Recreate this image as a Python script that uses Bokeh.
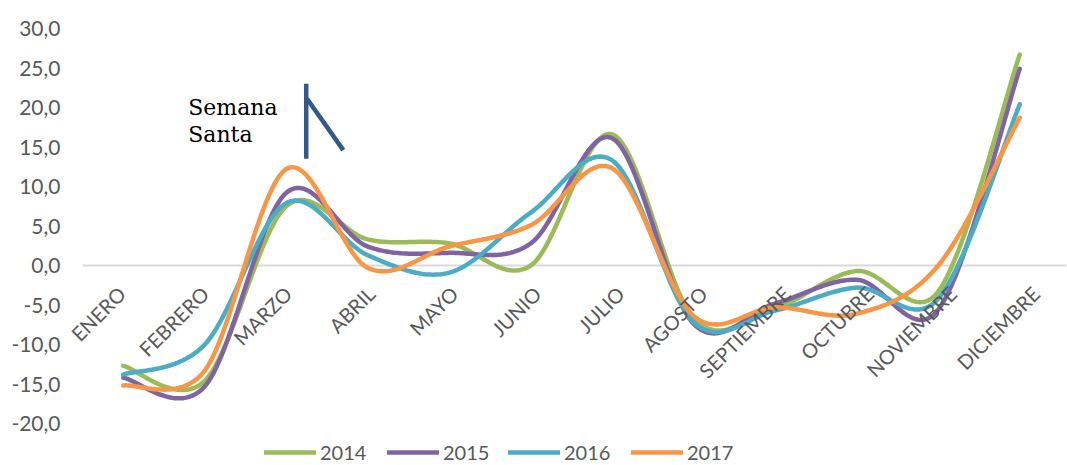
import math
from bokeh.plotting import figure
from bokeh.models import Range1d, FixedTicker, Legend, LegendItem, ColumnDataSource
from bokeh.core.properties import value
from bokeh.embed import file_html
from bokeh.resources import INLINE

months = ["ENERO", "FEBRERO", "MARZO", "ABRIL", "MAYO", "JUNIO", "JULIO",
          "AGOSTO", "SEPTIEMBRE", "OCTUBRE", "NOVIEMBRE", "DICIEMBRE"]
series_names = ["2014", "2015", "2016", "2017"]
v2014 = [-12.7, -14.6, 7.5, 3.3, 2.8, 0.0, 16.6, -6.7, -5.4, -0.7, -3.3, 26.7]
v2015 = [-14.2, -15.3, 9.2, 2.4, 1.6, 2.8, 16.1, -7.4, -4.8, -1.8, -5.6, 24.9]
v2016 = [-13.8, -10.0, 7.9, 1.3, -0.9, 6.7, 13.3, -7.2, -5.7, -2.8, -4.2, 20.4]
v2017 = [-15.2, -13.3, 12.2, -0.3, 2.4, 5.1, 12.3, -6.4, -5.3, -6.1, 0.0, 18.7]
y_ticks = [-20, -15, -10, -5, 0, 5, 10, 15, 20, 25, 30]
colors = ["#9BBB59", "#8064A2", "#4BACC6", "#F79646"]
annot_text = ["Semana", "Santa"]

W, H = 1067, 465
STEP = 81.5
ML, MR, MT, MB = 66, 1, 28, 0
EXTRA = (82 - ML) / STEP
X0 = -0.5 - EXTRA
X1 = X0 + (W - ML - MR) / STEP
Y1 = 30.0
Y0 = Y1 - (H - MT - MB) / 7.9
SX = STEP
SY = 7.9


def smooth(xs, ys, n=40):
    P = [(x * SX, y * SY) for x, y in zip(xs, ys)]
    out_x, out_y = [], []
    for i in range(len(P) - 1):
        p0 = P[i - 1] if i > 0 else P[i]
        p1 = P[i]
        p2 = P[i + 1]
        p3 = P[i + 2] if i + 2 < len(P) else P[i + 1]
        d12 = math.hypot(p2[0] - p1[0], p2[1] - p1[1])
        a1 = [(p2[0] - p0[0]) / 6, (p2[1] - p0[1]) / 6]
        a2 = [(p3[0] - p1[0]) / 6, (p3[1] - p1[1]) / 6]
        for a in (a1, a2):
            L = math.hypot(a[0], a[1])
            if L > d12 / 2 and L > 0:
                f = (d12 / 2) / L
                a[0] *= f
                a[1] *= f
        c1 = (p1[0] + a1[0], p1[1] + a1[1])
        c2 = (p2[0] - a2[0], p2[1] - a2[1])
        for k in range(n + (1 if i == len(P) - 2 else 0)):
            t = k / n
            u = 1 - t
            bx = u**3 * p1[0] + 3 * u * u * t * c1[0] + 3 * u * t * t * c2[0] + t**3 * p2[0]
            by = u**3 * p1[1] + 3 * u * u * t * c1[1] + 3 * u * t * t * c2[1] + t**3 * p2[1]
            out_x.append(bx / SX)
            out_y.append(by / SY)
    return out_x, out_y


p = figure(width=W, height=H, output_backend="svg", toolbar_location=None,
           x_range=Range1d(X0, X1), y_range=Range1d(Y0, Y1),
           min_border_left=ML, min_border_right=MR, min_border_top=MT,
           min_border_bottom=MB)
p.outline_line_color = None
p.xaxis.visible = False
p.xgrid.grid_line_color = None
p.ygrid.grid_line_color = None

ax = p.yaxis[0]
ax.ticker = FixedTicker(ticks=y_ticks)
ax.major_label_overrides = {t: f"{t},0" for t in y_ticks}
ax.axis_line_color = None
ax.major_tick_line_color = None
ax.minor_tick_line_color = None
ax.major_label_standoff = 0
ax.major_label_text_font = "Lato"
ax.major_label_text_font_size = "21px"
ax.major_label_text_color = "#595959"

# zero line (horizontal category axis)
p.segment(x0=[-0.5], y0=[0], x1=[X1], y1=[0], line_color="#D9D9D9", line_width=2)

idx = list(range(len(months)))
renderers = []
for vals, c in zip([v2014, v2015, v2016, v2017], colors):
    sx, sy = smooth(idx, vals)
    r = p.line(sx, sy, line_color=c, line_width=4.5, line_cap="round", line_join="round")
    renderers.append(r)

lab_src = ColumnDataSource(dict(x=idx, y=[0] * len(idx), text=months,
                                xo=[-10 + 1.6 * i for i in idx]))
p.text(x="x", y="y", text="text", source=lab_src, angle=math.pi / 4,
       text_align="right", text_baseline="top", x_offset="xo", y_offset=16,
       text_font=value("Lato"), text_font_size="20px", text_color="#595959")

# annotation
p.text(x=[0.797, 0.797], y=[21.6, 18.2], text=annot_text, text_align="left",
       text_baseline="top", text_font=value("DejaVu Serif"), text_font_size="22px",
       text_color="#000000")
p.segment(x0=[2.245, 2.255], y0=[13.5, 21.1], x1=[2.245, 2.70], y1=[23.0, 14.6],
          line_color="#33598A", line_width=4.5)

lx = [198, 321, 442, 565]
for r, name, x in zip(renderers, series_names, lx):
    lg = Legend(items=[LegendItem(label=name, renderers=[r])], location=(x, 1),
                orientation="horizontal", border_line_color=None,
                background_fill_alpha=0, padding=0, margin=0, spacing=0,
                glyph_width=52, glyph_height=16, label_standoff=4,
                label_text_font="Lato", label_text_font_size="20px",
                label_text_color="#595959", label_height=16)
    p.add_layout(lg, "center")

open("out.html", "w").write(file_html(p, INLINE))
